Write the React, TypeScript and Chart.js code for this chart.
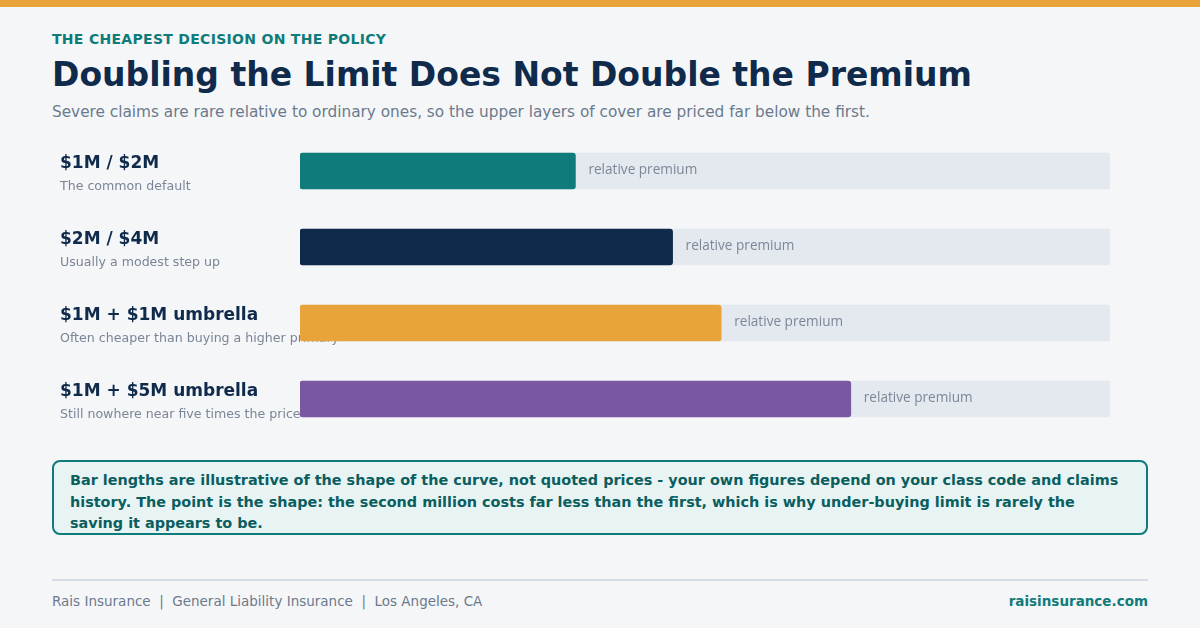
import React, { useEffect, useRef } from "react";
import { Chart, registerables } from "chart.js";

Chart.register(...registerables);

const categories = ["$1M / $2M", "$2M / $4M", "$1M + $1M umbrella", "$1M + $5M umbrella"];
const descriptions = [
  "The common default",
  "Usually a modest step up",
  "Often cheaper than buying a higher primary",
  "Still nowhere near five times the price",
];
const premiumValues = [34, 46, 52, 68];
const trackValues = [100, 100, 100, 100];
const barColors = ["#0f7b7a", "#0f2a4a", "#e8a33b", "#7a58a1"];
const barLabel = "relative premium";

const labelsPlugin = {
  id: "rowLabels",
  beforeDatasetsDraw(chart: any) {
    const ctx = chart.ctx;
    const yScale = chart.scales.y;
    ctx.save();
    ctx.textAlign = "left";
    ctx.textBaseline = "middle";
    categories.forEach((cat, i) => {
      const y = yScale.getPixelForValue(i);
      ctx.fillStyle = "#0f2a4a";
      ctx.font = "bold 17px 'DejaVu Sans'";
      ctx.fillText(cat, 60, y - 7);
      ctx.fillStyle = "#7a8597";
      ctx.font = "12.6px 'DejaVu Sans'";
      ctx.fillText(descriptions[i], 60, y + 15.5);
    });
    ctx.restore();
  },
  afterDatasetsDraw(chart: any) {
    const ctx = chart.ctx;
    const meta = chart.getDatasetMeta(0);
    ctx.save();
    ctx.textAlign = "left";
    ctx.textBaseline = "middle";
    ctx.fillStyle = "#7c8797";
    ctx.font = "13.6px 'Open Sans'";
    meta.data.forEach((bar: any) => {
      ctx.fillText(barLabel, bar.x + 13, bar.y - 1);
    });
    ctx.restore();
  },
};

function BarChart() {
  const ref = useRef<HTMLCanvasElement | null>(null);
  useEffect(() => {
    if (!ref.current) return;
    const chart = new Chart(ref.current, {
      type: "bar",
      data: {
        labels: categories,
        datasets: [
          {
            label: "Relative premium",
            data: premiumValues,
            backgroundColor: barColors,
            borderRadius: 3,
            borderSkipped: false,
            barThickness: 36,
            grouped: false,
            order: 1,
          },
          {
            label: "Track",
            data: trackValues,
            backgroundColor: "#e4e9f0",
            borderRadius: 3,
            borderSkipped: false,
            barThickness: 36,
            grouped: false,
            order: 2,
          },
        ],
      },
      options: {
        indexAxis: "y",
        animation: false,
        responsive: false,
        maintainAspectRatio: false,
        layout: { padding: { left: 300, right: 90, top: 0, bottom: 0 } },
        scales: {
          x: { display: false, min: 0, max: 100 },
          y: { display: false, offset: true },
        },
        plugins: {
          legend: { display: false },
          tooltip: { enabled: false },
        },
      },
      plugins: [labelsPlugin],
    });
    return () => chart.destroy();
  }, []);
  return (
    <canvas
      ref={ref}
      width={1200}
      height={304}
      style={{ position: "absolute", left: 0, top: 133, width: 1200, height: 304 }}
    />
  );
}

export default function App() {
  const sans = "'DejaVu Sans', sans-serif";
  return (
    <div
      style={{
        position: "absolute",
        left: 0,
        top: 0,
        width: 1200,
        height: 628,
        background: "#f5f6f8",
        fontFamily: sans,
        overflow: "hidden",
      }}
    >
      <div style={{ position: "absolute", left: 0, top: 0, width: 1200, height: 7, background: "#e8a33b" }} />
      <div
        style={{
          position: "absolute",
          left: 52,
          top: 29,
          fontSize: 14,
          fontWeight: "bold",
          color: "#0f7b7a",
          letterSpacing: 0.3,
          lineHeight: "20px",
          whiteSpace: "nowrap",
        }}
      >
        THE CHEAPEST DECISION ON THE POLICY
      </div>
      <div
        style={{
          position: "absolute",
          left: 52,
          top: 55,
          fontSize: 33,
          fontWeight: "bold",
          color: "#0f2a4a",
          lineHeight: "40px",
          whiteSpace: "nowrap",
        }}
      >
        Doubling the Limit Does Not Double the Premium
      </div>
      <div
        style={{
          position: "absolute",
          left: 52,
          top: 101,
          fontSize: 15.3,
          color: "#6b7a8c",
          lineHeight: "22px",
          whiteSpace: "nowrap",
        }}
      >
        Severe claims are rare relative to ordinary ones, so the upper layers of cover are priced far below the first.
      </div>
      <BarChart />
      <div
        style={{
          position: "absolute",
          left: 52,
          top: 460,
          width: 1096,
          height: 75,
          boxSizing: "border-box",
          border: "2px solid #0f7b7a",
          borderRadius: 8,
          background: "#e8f3f4",
          padding: "8px 16px 0 16px",
          fontSize: 14.4,
          fontWeight: "bold",
          color: "#0b5e5e",
          lineHeight: "21.7px",
        }}
      >
        Bar lengths are illustrative of the shape of the curve, not quoted prices - your own figures depend on your class
        code and claims history. The point is the shape: the second million costs far less than the first, which is why
        under-buying limit is rarely the saving it appears to be.
      </div>
      <div style={{ position: "absolute", left: 52, top: 579, width: 1096, height: 2, background: "#d6dce3" }} />
      <div
        style={{
          position: "absolute",
          left: 52,
          top: 591,
          fontSize: 13.5,
          color: "#6b7a8c",
          lineHeight: "20px",
          whiteSpace: "nowrap",
        }}
      >
        Rais Insurance<span style={{ margin: "0 8.5px" }}>|</span>General Liability Insurance
        <span style={{ margin: "0 8.5px" }}>|</span>Los Angeles, CA
      </div>
      <div
        style={{
          position: "absolute",
          right: 52,
          top: 591,
          fontSize: 13.5,
          fontWeight: "bold",
          color: "#0f7b7a",
          lineHeight: "20px",
          whiteSpace: "nowrap",
        }}
      >
        raisinsurance.com
      </div>
    </div>
  );
}
